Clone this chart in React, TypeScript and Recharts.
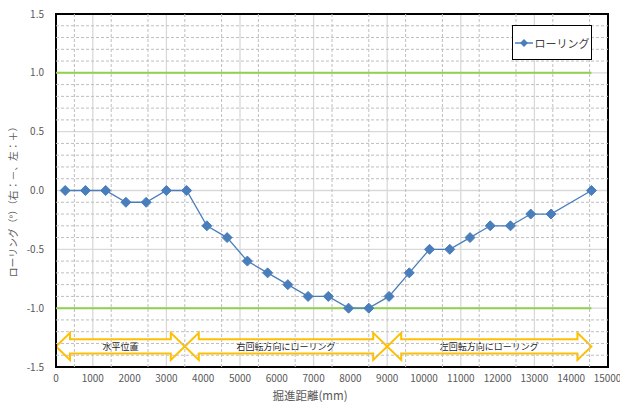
import React from "react";
import {
  ComposedChart,
  Line,
  XAxis,
  YAxis,
  CartesianGrid,
  ReferenceLine,
  ReferenceArea,
  Legend,
  Label,
} from "recharts";

// Rolling measurements along the bore
const DISTANCE_MM = [
  250, 800, 1350, 1900, 2450, 3000, 3550, 4100, 4650, 5200, 5750, 6300, 6850,
  7400, 7950, 8500, 9050, 9600, 10150, 10700, 11250, 11800, 12350, 12900,
  13450, 14550,
];
const ROLLING_DEG = [
  0, 0, 0, -0.1, -0.1, 0, 0, -0.3, -0.4, -0.6, -0.7, -0.8, -0.9, -0.9, -1.0,
  -1.0, -0.9, -0.7, -0.5, -0.5, -0.4, -0.3, -0.3, -0.2, -0.2, 0,
];

// Tolerance limits (±1.0°)
const LIMIT_X = [0, 14550];
const UPPER_LIMIT = 1.0;
const LOWER_LIMIT = -1.0;

// Zone arrows under the curve
const ZONE_LABELS = ["水平位置", "右回転方向にローリング", "左回転方向にローリング"];
const ZONE_START = [0, 3500, 9000];
const ZONE_END = [3500, 9000, 14550];
const ZONE_TOP = -1.21;
const ZONE_BOTTOM = -1.44;

const X_TICKS = [
  0, 1000, 2000, 3000, 4000, 5000, 6000, 7000, 8000, 9000, 10000, 11000,
  12000, 13000, 14000, 15000,
];
const Y_TICKS = [-1.5, -1.0, -0.5, 0, 0.5, 1.0, 1.5];
const X_MINOR = [500, 1500, 2500, 3500, 4500, 5500, 6500, 7500, 8500, 9500, 10500, 11500, 12500, 13500, 14500];
const Y_MINOR = [-1.4, -1.3, -1.2, -1.1, -0.9, -0.8, -0.7, -0.6, -0.4, -0.3, -0.2, -0.1, 0.1, 0.2, 0.3, 0.4, 0.6, 0.7, 0.8, 0.9, 1.1, 1.2, 1.3, 1.4];

const rollingData = DISTANCE_MM.map((x, i) => ({ x, y: ROLLING_DEG[i] }));
const upperData = LIMIT_X.map((x) => ({ x, y: UPPER_LIMIT }));
const lowerData = LIMIT_X.map((x) => ({ x, y: LOWER_LIMIT }));

const FONT = "'Noto Sans CJK JP', 'DejaVu Sans', sans-serif";
const BLUE = "#4a7ebb";
const GREEN = "#92d050";
const ARROW = "#ffc000";

function Diamond(props: any) {
  const { cx, cy } = props;
  if (cx == null || cy == null) return null;
  const r = 5;
  return (
    <polygon
      points={`${cx},${cy - r} ${cx + r},${cy} ${cx},${cy + r} ${cx - r},${cy}`}
      fill={BLUE}
      stroke={BLUE}
      strokeWidth={1}
    />
  );
}

function ZoneArrow(label: string) {
  return (props: any) => {
    const { x, y, width, height } = props;
    const head = 14;
    const inset = height * 0.24;
    const mid = y + height / 2;
    const pts = [
      [x, mid],
      [x + head, y],
      [x + head, y + inset],
      [x + width - head, y + inset],
      [x + width - head, y],
      [x + width, mid],
      [x + width - head, y + height],
      [x + width - head, y + height - inset],
      [x + head, y + height - inset],
      [x + head, y + height],
    ]
      .map((p) => p.join(","))
      .join(" ");
    return (
      <g>
        <polygon points={pts} fill="#ffffff" stroke={ARROW} strokeWidth={2} strokeLinejoin="miter" />
        <text
          x={x + width / 2}
          y={mid}
          textAnchor="middle"
          dominantBaseline="central"
          fontSize={9}
          fontFamily={FONT}
          fill="#262626"
        >
          {label}
        </text>
      </g>
    );
  };
}

function LegendBox() {
  return (
    <div
      style={{
        width: 78,
        height: 33,
        border: "1px solid #000",
        background: "#fff",
        display: "flex",
        alignItems: "center",
        justifyContent: "center",
        fontFamily: FONT,
        fontSize: 11,
        color: "#404040",
        boxSizing: "content-box",
      }}
    >
      <svg width={18} height={10} style={{ marginRight: 2 }}>
        <line x1={0} y1={5} x2={18} y2={5} stroke={BLUE} strokeWidth={1.5} />
        <polygon points="9,1 13,5 9,9 5,5" fill={BLUE} />
      </svg>
      <span>ローリング</span>
    </div>
  );
}

function YTitle(props: any) {
  const { viewBox } = props;
  const cy = viewBox.y + viewBox.height / 2 + 9;
  return (
    <text
      x={13}
      y={cy}
      transform={`rotate(-90, 13, ${cy})`}
      textAnchor="middle"
      dominantBaseline="central"
      fontSize={9.8}
      fontFamily={FONT}
      fill="#595959"
    >
      ローリング（°）（右：－、左：＋）
    </text>
  );
}

function XTitle(props: any) {
  const { viewBox } = props;
  return (
    <text
      x={viewBox.x + viewBox.width / 2 - 22}
      y={395}
      textAnchor="middle"
      dominantBaseline="central"
      fontSize={11.5}
      fontFamily={FONT}
      fill="#595959"
    >
      掘進距離(mm)
    </text>
  );
}

export default function App() {
  return (
    <div style={{ position: "absolute", left: 0, top: 0, background: "#fff" }}>
      <ComposedChart
        width={620}
        height={403}
        margin={{ top: 14, right: 12, bottom: 16, left: 0 }}
      >
        <XAxis
          dataKey="x"
          type="number"
          domain={[0, 15000]}
          ticks={X_TICKS}
          axisLine={false}
          tickLine={false}
          height={20}
          tickMargin={2}
          tick={{ fontSize: 10, fill: "#595959", fontFamily: FONT }}
          allowDuplicatedCategory={false}
        >
          <Label content={<XTitle />} />
        </XAxis>
        <YAxis
          type="number"
          domain={[-1.5, 1.5]}
          ticks={Y_TICKS}
          axisLine={false}
          tickLine={false}
          width={56}
          tickMargin={6}
          tickFormatter={(v: number) => v.toFixed(1)}
          tick={{ fontSize: 10, fill: "#595959", fontFamily: FONT }}
        >
          <Label content={<YTitle />} />
        </YAxis>

        {X_MINOR.map((v) => (
          <ReferenceLine key={`vx${v}`} x={v} stroke="#bfbfbf" strokeDasharray="3 2" />
        ))}
        {Y_MINOR.map((v) => (
          <ReferenceLine key={`hy${v}`} y={v} stroke="#bfbfbf" strokeDasharray="3 2" />
        ))}
        <CartesianGrid stroke="#d9d9d9" strokeWidth={1.3} />

        {ZONE_LABELS.map((label, i) => (
          <ReferenceArea
            key={label}
            x1={ZONE_START[i]}
            x2={ZONE_END[i]}
            y1={ZONE_BOTTOM}
            y2={ZONE_TOP}
            shape={ZoneArrow(label)}
          />
        ))}

        <Line
          data={upperData}
          dataKey="y"
          stroke={GREEN}
          strokeWidth={2}
          dot={false}
          legendType="none"
          isAnimationActive={false}
        />
        <Line
          data={lowerData}
          dataKey="y"
          stroke={GREEN}
          strokeWidth={2}
          dot={false}
          legendType="none"
          isAnimationActive={false}
        />
        <Line
          data={rollingData}
          dataKey="y"
          name="ローリング"
          stroke={BLUE}
          strokeWidth={1.3}
          dot={<Diamond />}
          activeDot={false}
          isAnimationActive={false}
        />

        <ReferenceArea
          x1={0}
          x2={15000}
          y1={-1.5}
          y2={1.5}
          fill="none"
          stroke="#000"
          strokeWidth={2}
        />

        <Legend
          layout="horizontal"
          align="center"
          verticalAlign="middle"
          content={<LegendBox />}
          wrapperStyle={{ left: 512, top: 25, width: 80 }}
        />
      </ComposedChart>
    </div>
  );
}
